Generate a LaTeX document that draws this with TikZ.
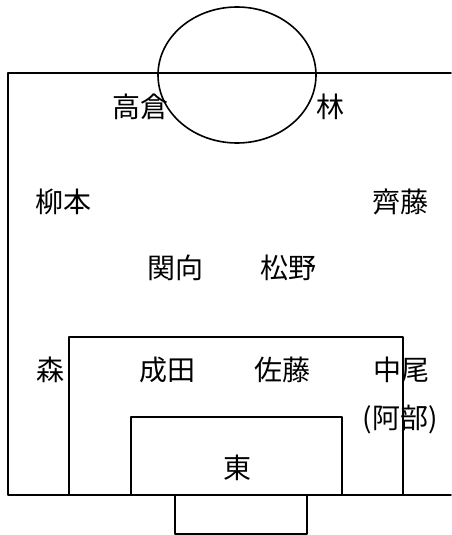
\documentclass[tikz,border=0pt]{standalone}
\usepackage{fontspec}
\newfontfamily\jpfont{Noto Sans CJK JP}
\usetikzlibrary{positioning}

\begin{document}
\begin{tikzpicture}[x=1pt, y=-1pt, line cap=round, line join=round,
	field/.style={line width=1.6pt},
	player/.style={font=\jpfont\fontsize{28}{32}\selectfont, inner sep=0pt}]

% bounding box (reference size)
\useasboundingbox (0,0) rectangle (451,535);

%========================
% field lines
%========================
\draw[field] (451,73) -- (8,73) -- (8,495) -- (451,495);
% centre circle
\draw[field] (237,75) ellipse (79 and 68);
% penalty area
\draw[field] (69,495) -- (69,337) -- (403,337) -- (403,495);
% goal area
\draw[field] (131,495) -- (131,417) -- (342,417) -- (342,495);
% goal
\draw[field] (175,495) -- (175,534) -- (307,534) -- (307,495);

%========================
% players
%========================
\node[player] (takakura) at (140,107) {高倉};
\node[player] (hayashi)  at (330,107) {林};
\node[player] (yanagimoto) at (63,202) {柳本};
\node[player] (saito)    at (400,202) {齊藤};
\node[player] (sekimukai) at (175,268) {関向};
\node[player] (matsuno)  at (288,268) {松野};
\node[player] (mori)     at (50,370) {森};
\node[player] (narita)   at (167,370) {成田};
\node[player] (sato)     at (282,370) {佐藤};
\node[player] (nakao)    at (401,370) {中尾};
\node[player] (abe)      at (400,420) {(阿部)};
\node[player] (azuma)    at (237,468) {東};

\end{tikzpicture}
\end{document}
